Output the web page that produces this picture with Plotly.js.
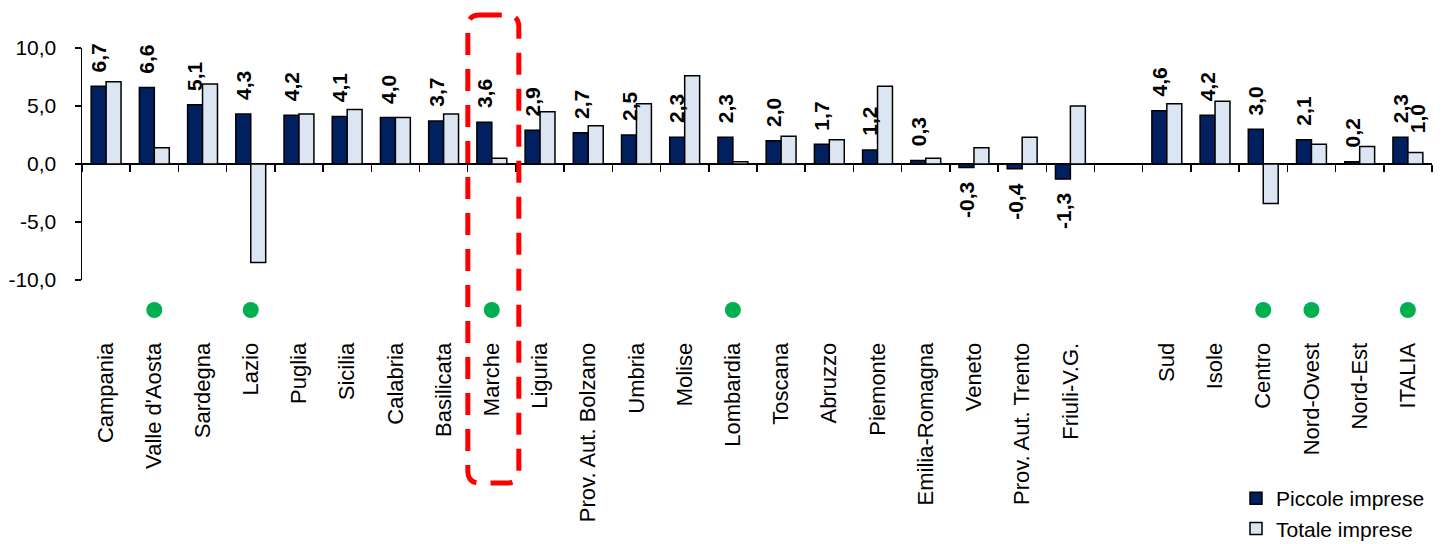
<!DOCTYPE html>
<html>
<head>
<meta charset="utf-8">
<script src="https://cdn.plot.ly/plotly-3.0.1.min.js"></script>
<style>html,body{margin:0;padding:0;background:#fff}#chart{width:1442px;height:544px}</style>
</head>
<body>
<div id="chart"></div>
<script>
// ---- data ----
const categories = ["Campania","Valle d'Aosta","Sardegna","Lazio","Puglia","Sicilia","Calabria","Basilicata","Marche","Liguria","Prov. Aut. Bolzano","Umbria","Molise","Lombardia","Toscana","Abruzzo","Piemonte","Emilia-Romagna","Veneto","Prov. Aut. Trento","Friuli-V.G."," ","Sud","Isole","Centro","Nord-Ovest","Nord-Est","ITALIA"];
const piccoleImprese = [6.7,6.6,5.1,4.3,4.2,4.1,4.0,3.7,3.6,2.9,2.7,2.5,2.3,2.3,2.0,1.7,1.2,0.3,-0.3,-0.4,-1.3,null,4.6,4.2,3.0,2.1,0.2,2.3];
const totaleImprese = [7.1,1.4,6.9,-8.5,4.3,4.7,4.0,4.3,0.5,4.5,3.3,5.2,7.6,0.2,2.4,2.1,6.7,0.5,1.4,2.3,5.0,null,5.2,5.4,-3.4,1.7,1.5,1.0];
const flagged = ["Valle d'Aosta","Lazio","Marche","Lombardia","Centro","Nord-Ovest","ITALIA"];
const totaleLabelled = ["ITALIA"];
const highlighted = "Marche";
const yTicks = [-10,-5,0,5,10];
const seriesNames = ["Piccole imprese","Totale imprese"];

// ---- style / geometry ----
const DARK = "#002060", LIGHT = "#DCE6F2", GREEN = "#00B050";
const FONT = "Liberation Sans, Arial, sans-serif";
const W = 1442, H = 544;
const L = 82, R = 10, T = 48, B = 214;           // plot area 48..330
const plotW = W - L - R, plotH = H - T - B;
const barBottomPx = 280;                           // pixel of y = -10
const yDomLo = (T + plotH - barBottomPx) / plotH;  // bars axis domain start
const N = categories.length;
const DOT_LEVEL = 0.4;                             // in the marker strip (0..1)
const fmt = v => v.toFixed(1).replace('.', ',');
const BARGAP = 0.38;

const traces = [
  {type:'bar', name:seriesNames[0], x:categories, y:piccoleImprese,
   marker:{color:DARK, line:{color:'#000', width:1.5}}, hoverinfo:'x+y'},
  {type:'bar', name:seriesNames[1], x:categories, y:totaleImprese,
   marker:{color:LIGHT, line:{color:'#000', width:1.5}}, hoverinfo:'x+y'},
  {type:'scatter', mode:'markers', x:flagged, y:flagged.map(()=>DOT_LEVEL), yaxis:'y2',
   marker:{color:GREEN, size:16}, showlegend:false, hoverinfo:'skip'},
  {type:'scatter', mode:'markers', x:categories, y:categories.map(()=>0), xaxis:'x2',
   marker:{opacity:0}, showlegend:false, hoverinfo:'skip'}
];

// data labels
const slotPx = plotW / N;
const barOff = slotPx * (1 - BARGAP) / 4;
const annotations = [];
const labelFont = {family:FONT, size:21, color:'#000', weight:'bold'};
piccoleImprese.forEach((v,i)=>{
  if (v === null) return;
  annotations.push({x:categories[i], y:v, xref:'x', yref:'y', text:fmt(v), showarrow:false,
    textangle:-90, xshift:-barOff, yanchor: v>=0?'bottom':'top', yshift: v>=0?13:-13,
    font:labelFont, borderpad:0});
});
totaleImprese.forEach((v,i)=>{
  if (v === null || !totaleLabelled.includes(categories[i])) return;
  annotations.push({x:categories[i], y:v, xref:'x', yref:'y', text:fmt(v), showarrow:false,
    textangle:-90, xshift:barOff+3, yanchor: v>=0?'bottom':'top', yshift: v>=0?18:-18,
    font:labelFont, borderpad:0});
});

// highlight box (rounded, dashed) around the highlighted category
const hi = categories.indexOf(highlighted);
const cx = (hi + 0.5) / N + 1.5/plotW;
const hw = 25.5 / plotW;
const x0 = cx - hw, x1 = cx + hw;
const py = p => (T + plotH - p) / plotH;
const y1 = py(15), y0 = py(483);
const rx = 12 / plotW, ry = 12 / plotH;
const path = `M${x0+rx},${y1} L${x1-rx},${y1} Q${x1},${y1} ${x1},${y1-ry} L${x1},${y0+ry} Q${x1},${y0} ${x1-rx},${y0} L${x0+rx},${y0} Q${x0},${y0} ${x0},${y0+ry} L${x0},${y1-ry} Q${x0},${y1} ${x0+rx},${y1} Z`;

const zeroPaper = yDomLo + (1 - yDomLo) * 0.5;

const layout = {
  width:W, height:H, margin:{l:L, r:R, t:T, b:B, autoexpand:false},
  paper_bgcolor:'#fff', plot_bgcolor:'rgba(0,0,0,0)',
  separators:',.',
  font:{family:FONT, size:21, color:'#000'},
  barmode:'group', bargap:BARGAP, bargroupgap:0,
  showlegend:true,
  legend:{x:(1236 - L)/plotW, y:py(478), xanchor:'left', yanchor:'top', bgcolor:'rgba(0,0,0,0)',
          font:{family:FONT, size:21, color:'#000'}, itemwidth:30, tracegroupgap:0},
  xaxis:{type:'category', categoryorder:'array', categoryarray:categories, range:[-0.5, N-0.5],
         anchor:'y2',
         showline:false, showgrid:false, zeroline:false, tickangle:-90,
         ticks:'outside', ticklen:3, tickcolor:'rgba(0,0,0,0)',
         tickfont:{family:FONT, size:22, color:'#000'}, automargin:false},
  xaxis2:{type:'category', categoryorder:'array', categoryarray:categories, range:[-0.5, N-0.5],
          overlaying:'x', anchor:'free', position:zeroPaper, side:'bottom',
          showline:false, showgrid:false, zeroline:false, showticklabels:false,
          ticks:'outside', ticklen:7, tickwidth:1.5, tickcolor:'#000', tickson:'boundaries'},
  yaxis:{domain:[yDomLo, 1], anchor:'x', range:[-10,10], tickvals:yTicks, ticktext:yTicks.map(fmt),
         showgrid:false,
         showline:true, linecolor:'#000', linewidth:1.5, ticks:'outside', ticklen:6, tickwidth:1.5, tickcolor:'#000',
         ticklabelstandoff:14,
         zeroline:true, zerolinecolor:'#000', zerolinewidth:2,
         tickfont:{family:FONT, size:21, color:'#000'}, automargin:false},
  yaxis2:{domain:[0, yDomLo], anchor:'x', range:[0,1], visible:false, fixedrange:true},
  annotations:annotations,
  shapes:[{type:'path', xref:'paper', yref:'paper', path:path,
           line:{color:'#FF0000', width:5, dash:'22px,14px'}, layer:'above'}]
};

Plotly.newPlot('chart', traces, layout, {displayModeBar:false, staticPlot:true});
</script>
</body>
</html>
